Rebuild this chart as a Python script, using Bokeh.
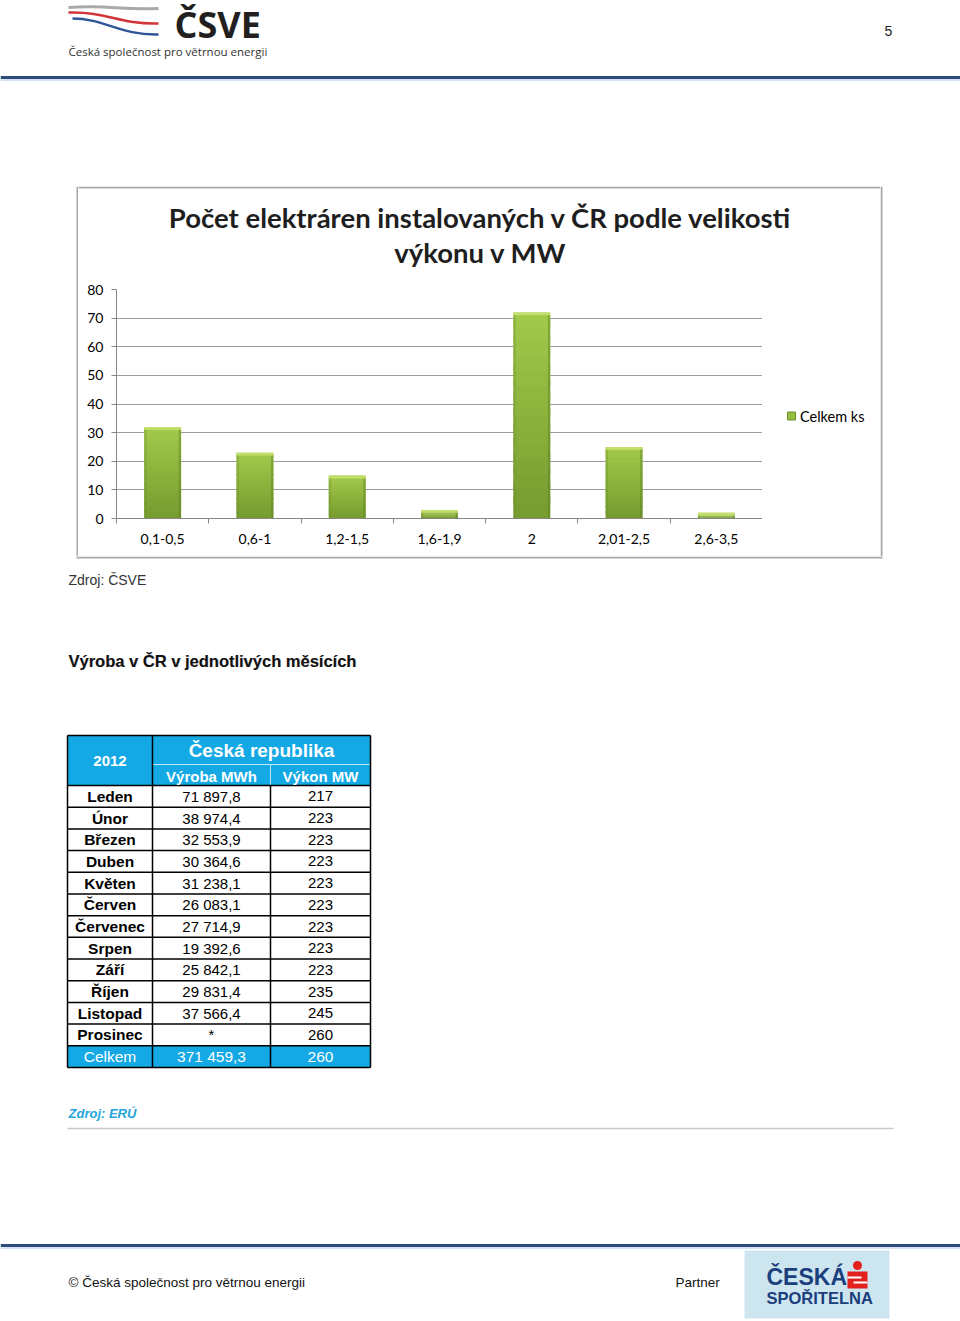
from bokeh.plotting import figure
from bokeh.models import Range1d, FixedTicker
from bokeh.layouts import column, row
from bokeh.embed import file_html
from bokeh.resources import INLINE
from bokeh.core.properties import value

# ---------------- data ----------------
categories = ["0,1-0,5", "0,6-1", "1,2-1,5", "1,6-1,9", "2", "2,01-2,5", "2,6-3,5"]
counts = [32, 23, 15, 3, 72, 25, 2]
y_ticks = [0, 10, 20, 30, 40, 50, 60, 70, 80]
series_name = "Celkem ks"
chart_title = ["Počet elektráren instalovaných v ČR podle velikosti", "výkonu v MW"]

table_year = "2012"
table_region = "Česká republika"
col_headers = ["Výroba MWh", "Výkon MW"]
months = ["Leden", "Únor", "Březen", "Duben", "Květen", "Červen", "Červenec",
          "Srpen", "Září", "Říjen", "Listopad", "Prosinec"]
vyroba = ["71 897,8", "38 974,4", "32 553,9", "30 364,6", "31 238,1", "26 083,1",
          "27 714,9", "19 392,6", "25 842,1", "29 831,4", "37 566,4", "*"]
vykon = ["217", "223", "223", "223", "223", "223", "223", "223", "223", "235", "245", "260"]
total_row = ["Celkem", "371 459,3", "260"]

ARIAL = value("Liberation Sans")
CAL = "Lato"
BLUE = "#14A8E4"
NAVY = "#2E4B7A"
BOX = "#A8A8A8"


def page_fig(w, h, x_left, x_right, y_top, y_bot):
    p = figure(width=w, height=h, x_range=Range1d(x_left, x_right), y_range=Range1d(y_bot, y_top),
               output_backend="svg", toolbar_location=None, min_border=0,
               x_axis_location=None, y_axis_location=None, sizing_mode="fixed",
               frame_align=False)
    p.grid.visible = False
    p.outline_line_color = None
    p.background_fill_color = "white"
    p.border_fill_color = "white"
    return p


# ---------------- header ----------------
top = page_fig(960, 186, 0, 960, 0, 186)
top.bezier(x0=[68], y0=[7], x1=[158], y1=[8], cx0=[110], cy0=[4], cx1=[118], cy1=[10],
           line_color="#A7A9AC", line_width=3)
top.bezier(x0=[68], y0=[12], x1=[158], y1=[23], cx0=[108], cy0=[11], cx1=[118], cy1=[24],
           line_color="#D2343A", line_width=2.5)
top.bezier(x0=[72], y0=[18], x1=[158], y1=[34], cx0=[104], cy0=[18], cx1=[120], cy1=[35],
           line_color="#2E5597", line_width=2.5)
top.text(x=[174], y=[24], text=["ČSVE"], text_font=value("Open Sans"), text_font_style="bold",
         text_font_size="36px", text_color="#231F20", text_baseline="middle")
top.text(x=[68], y=[51], text=["Česká společnost pro větrnou energii"], text_font=value("Open Sans"),
         text_font_size="11.5px", text_color="#333333", text_baseline="middle")
top.text(x=[888], y=[30], text=["5"], text_font=ARIAL, text_font_size="14px",
         text_color="#222222", text_baseline="middle", text_align="center")
top.segment(x0=[0], y0=[77], x1=[960], y1=[77], line_color=NAVY, line_width=3)
top.segment(x0=[0], y0=[79.5], x1=[960], y1=[79.5], line_color="#A9C6E2", line_width=1)

# ---------------- chart box ----------------
left_fig = page_fig(78, 370, 0, 78, 186, 556)
left_fig.segment(x0=[77], y0=[186], x1=[77], y1=[556], line_color=BOX, line_width=2)
right_fig = page_fig(80, 370, 880, 960, 186, 556)
right_fig.segment(x0=[881], y0=[186], x1=[881], y1=[556], line_color=BOX, line_width=2)

title_fig = page_fig(802, 93, 78, 880, 186, 279)
title_fig.segment(x0=[78], y0=[187], x1=[880], y1=[187], line_color=BOX, line_width=2)
title_fig.text(x=[480, 480], y=[217, 252], text=chart_title, text_font=value(CAL),
               text_font_style="bold", text_font_size="27.5px", text_color="#1E1E1E",
               text_align="center", text_baseline="middle")

xs = list(range(1, len(categories) + 1))
chart = figure(width=684, height=277, x_range=Range1d(0.5, len(categories) + 0.5),
               y_range=Range1d(y_ticks[0], y_ticks[-1]), output_backend="svg",
               toolbar_location=None, min_border_left=38, min_border_right=0,
               min_border_top=10, min_border_bottom=38, sizing_mode="fixed",
               frame_align=False)
chart.outline_line_color = None
chart.xgrid.visible = False
chart.ygrid.ticker = FixedTicker(ticks=y_ticks)
chart.ygrid.grid_line_color = "#9C9C9C"
chart.ygrid.grid_line_width = 1

ya = chart.yaxis[0]
ya.ticker = FixedTicker(ticks=y_ticks)
ya.axis_line_color = "#868686"
ya.major_tick_line_color = "#868686"
ya.major_tick_in = 0
ya.major_tick_out = 5
ya.minor_tick_line_color = None
ya.major_label_text_font = CAL
ya.major_label_text_font_size = "14px"
ya.major_label_text_color = "#000000"
ya.major_label_standoff = 8

xa = chart.xaxis[0]
xa.ticker = FixedTicker(ticks=xs, minor_ticks=[x - 0.5 for x in xs] + [xs[-1] + 0.5])
xa.major_label_overrides = {x: c for x, c in zip(xs, categories)}
xa.axis_line_color = "#868686"
xa.major_tick_line_color = None
xa.major_tick_in = 0
xa.major_tick_out = 0
xa.minor_tick_line_color = "#868686"
xa.minor_tick_in = 0
xa.minor_tick_out = 5
xa.major_label_text_font = CAL
xa.major_label_text_font_size = "14px"
xa.major_label_text_color = "#000000"
xa.major_label_standoff = 10


def mix(c1, c2, t):
    a = [int(c1[i:i + 2], 16) for i in (1, 3, 5)]
    b = [int(c2[i:i + 2], 16) for i in (1, 3, 5)]
    return "#%02x%02x%02x" % tuple(round(a[i] + (b[i] - a[i]) * t) for i in range(3))


N = 14
for k in range(N):
    chart.vbar(x=xs, bottom=[c * k / N for c in counts],
               top=[min(c * (k + 1.5) / N, c) for c in counts],
               width=0.4, fill_color=mix("#779C30", "#A1C84A", k / (N - 1)), line_color=None)
chart.vbar(x=xs, bottom=[max(c - 1.0, 0) for c in counts], top=counts, width=0.4,
           fill_color="#C2DF6C", line_color=None)
chart.vbar(x=[x - 0.187 for x in xs], bottom=0, top=[max(c - 1.0, 0) for c in counts], width=0.026,
           fill_color="#6E922A", fill_alpha=0.35, line_color=None)
chart.vbar(x=[x + 0.187 for x in xs], bottom=0, top=[max(c - 1.0, 0) for c in counts], width=0.026,
           fill_color="#5F8123", fill_alpha=0.45, line_color=None)

# legend area (right of the plot area)
legend_fig = page_fig(118, 277, 762, 880, 279, 556)
legend_fig.scatter(x=[791], y=[415.5], marker="square", size=8, fill_color="#92BE3E",
                   line_color="#6E922A", line_width=1)
legend_fig.text(x=[799.5], y=[415.5], text=[series_name], text_font=value(CAL),
                text_font_size="14.5px", text_color="#000000", text_baseline="middle")

inner = column(title_fig, row(chart, legend_fig, width=802, height=277, sizing_mode="fixed"),
               width=802, height=370, sizing_mode="fixed")
middle = row(left_fig, inner, right_fig, width=960, height=370, sizing_mode="fixed")

# ---------------- bottom part ----------------
bot = page_fig(960, 765, 0, 960, 556, 1321)
bot.segment(x0=[76], y0=[557], x1=[882], y1=[557], line_color=BOX, line_width=2)
bot.text(x=[68], y=[579], text=["Zdroj: ČSVE"], text_font=ARIAL, text_font_size="14px",
         text_color="#333333", text_baseline="middle")
bot.text(x=[68.6], y=[660.6], text=["Výroba v ČR v jednotlivých měsících"], text_font=ARIAL,
         text_font_style="bold", text_font_size="16.5px", text_color="#9A9A9A",
         text_baseline="middle", text_alpha=0.6)
bot.text(x=[68], y=[660], text=["Výroba v ČR v jednotlivých měsících"], text_font=ARIAL,
         text_font_style="bold", text_font_size="16.5px", text_color="#111111",
         text_baseline="middle")

# table geometry
cx = [67, 152, 270, 370]
t_top, t_mid, t_head = 735, 764, 785
n_rows = len(months) + 1
row_h = (1067 - t_head) / n_rows
row_edges = [t_head + i * row_h for i in range(n_rows + 1)]
row_mid = [(row_edges[i] + row_edges[i + 1]) / 2 for i in range(n_rows)]
col_mid = [(cx[i] + cx[i + 1]) / 2 for i in range(3)]

bot.quad(left=[cx[0]], right=[cx[3]], top=[t_top], bottom=[t_head], fill_color=BLUE, line_color=None)
bot.quad(left=[cx[0]], right=[cx[3]], top=[row_edges[-2]], bottom=[row_edges[-1]],
         fill_color=BLUE, line_color=None)
bot.segment(x0=[cx[1], cx[2]], y0=[t_mid, t_mid], x1=[cx[3], cx[2]], y1=[t_mid, t_head],
            line_color="#BFE6F7", line_width=1)
bot.segment(x0=[cx[0]] * len(row_edges), y0=row_edges, x1=[cx[3]] * len(row_edges), y1=row_edges,
            line_color="#000000", line_width=1.5)
bot.segment(x0=[cx[0], cx[1], cx[2], cx[3]], y0=[t_top, t_top, t_head, t_top],
            x1=[cx[0], cx[1], cx[2], cx[3]], y1=[row_edges[-1]] * 4,
            line_color="#000000", line_width=1.5)
bot.segment(x0=[cx[0]], y0=[t_top], x1=[cx[3]], y1=[t_top], line_color="#000000", line_width=1.5)

bot.text(x=[col_mid[0]], y=[760], text=[table_year], text_font=ARIAL, text_font_style="bold",
         text_font_size="15px", text_color="white", text_align="center", text_baseline="middle")
bot.text(x=[(cx[1] + cx[3]) / 2], y=[750], text=[table_region], text_font=ARIAL,
         text_font_style="bold", text_font_size="19px", text_color="white", text_align="center",
         text_baseline="middle")
bot.text(x=col_mid[1:], y=[775.5, 775.5], text=col_headers, text_font=ARIAL, text_font_style="bold",
         text_font_size="15px", text_color="white", text_align="center", text_baseline="middle")
bot.text(x=[col_mid[0]] * len(months), y=row_mid[:-1], text=months, text_font=ARIAL,
         text_font_style="bold", text_font_size="15.5px", text_color="#000000",
         text_align="center", text_baseline="middle")
bot.text(x=[col_mid[1]] * len(months), y=row_mid[:-1], text=vyroba, text_font=ARIAL,
         text_font_size="15px", text_color="#000000", text_align="center", text_baseline="middle")
bot.text(x=[col_mid[2]] * len(months), y=row_mid[:-1], text=vykon, text_font=ARIAL,
         text_font_size="15px", text_color="#000000", text_align="center", text_baseline="middle")
bot.text(x=col_mid, y=[row_mid[-1]] * 3, text=total_row, text_font=ARIAL,
         text_font_size="15.5px", text_color="white", text_align="center", text_baseline="middle")

bot.text(x=[68], y=[1113], text=["Zdroj: ERÚ"], text_font=ARIAL, text_font_style="bold italic",
         text_font_size="13px", text_color="#24A5DA", text_baseline="middle")
bot.segment(x0=[67], y0=[1128], x1=[893], y1=[1128], line_color="#C9C9C9", line_width=1.5)

# footer
bot.segment(x0=[0], y0=[1245], x1=[960], y1=[1245], line_color=NAVY, line_width=3)
bot.segment(x0=[0], y0=[1247.5], x1=[960], y1=[1247.5], line_color="#A9C6E2", line_width=1)
bot.text(x=[68], y=[1282], text=["© Česká společnost pro větrnou energii"], text_font=ARIAL,
         text_font_size="13.5px", text_color="#111111", text_baseline="middle")
bot.text(x=[675], y=[1282], text=["Partner"], text_font=ARIAL, text_font_size="13.5px",
         text_color="#111111", text_baseline="middle")
bot.quad(left=[744], right=[889], top=[1250], bottom=[1318], fill_color="#CDE5EF", line_color=None)
bot.text(x=[766], y=[1276], text=["ČESKÁ"], text_font=ARIAL, text_font_style="bold",
         text_font_size="23px", text_color="#1B3E7C", text_baseline="middle")
bot.text(x=[766], y=[1297], text=["SPOŘITELNA"], text_font=ARIAL, text_font_style="bold",
         text_font_size="16.5px", text_color="#1B3E7C", text_baseline="middle")
bot.quad(left=[847], right=[867], top=[1271], bottom=[1288], fill_color="#E2211C", line_color=None)
bot.scatter(x=[857], y=[1265], size=9, marker="circle", fill_color="#E2211C", line_color=None)
bot.segment(x0=[847, 853], y0=[1277, 1282], x1=[861, 867], y1=[1277, 1282],
            line_color="white", line_width=2)

layout = column(top, middle, bot, width=960, height=1321, sizing_mode="fixed")

with open("out.html", "w") as f:
    f.write(file_html(layout, INLINE))
